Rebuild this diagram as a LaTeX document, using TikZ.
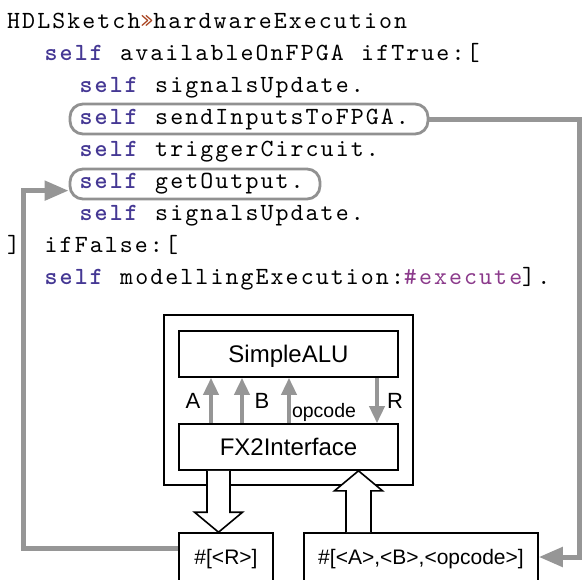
\documentclass[tikz,border=0pt]{standalone}
\usepackage{fontspec}
\usetikzlibrary{arrows.meta,calc}
\newfontfamily\codefont{lmmono10-regular.otf}[BoldFont=lmmonolt10-bold.otf,LetterSpace=8.4,WordSpace=1.1604]
\newfontfamily\helv{Liberation Sans}
\definecolor{selfc}{RGB}{69,56,148}
\definecolor{guilc}{RGB}{168,66,30}
\definecolor{symc}{RGB}{139,58,139}
\definecolor{conng}{RGB}{150,150,150}
\definecolor{pillg}{RGB}{145,145,145}
\newcommand\kwself[1]{{\bfseries\color{selfc}#1}}
\tikzset{
  code/.style={anchor=base west, inner sep=0pt, font=\codefont\fontsize{24.7}{30}\selectfont},
  pill/.style={draw=pillg, line width=2.8pt, rounded corners=13pt, minimum height=30pt, inner sep=0pt},
  blk/.style={draw, line width=1.6pt, inner sep=0pt, font=\helv\fontsize{24}{28}\selectfont, text height=17.2pt, text depth=0pt},
  blksmall/.style={draw, line width=1.6pt, inner sep=0pt, font=\helv\fontsize{21}{24}\selectfont, text height=15pt, text depth=0pt},
  lab/.style={anchor=base, inner sep=0pt, font=\helv\fontsize{22}{24}\selectfont},
  conn/.style={draw=conng, line width=5pt, -{Triangle[length=24pt,width=19pt]}},
  innerarr/.style={draw=conng, line width=3.7pt, -{Triangle[length=17pt,width=15pt]}},
  hollow/.style={draw=black, fill=white, line width=1.6pt, line join=miter},
}
\begin{document}
\begin{tikzpicture}[x=1pt,y=-1pt]
\useasboundingbox (0,0) rectangle (584,579);
\clip (0,0) rectangle (584,579);
% code
\node[code] (l1) at (7,28) {HDLSketch{\color{guilc}»}hardwareExecution};
\node[code] (l2) at (44.5,60.1) {\kwself{self} availableOnFPGA ifTrue:[};
\node[code] (l3) at (79.5,92.2) {\kwself{self} signalsUpdate.};
\node[code] (l4) at (79.5,124.3) {\kwself{self} sendInputsToFPGA.};
\node[code] (l5) at (79.5,156.4) {\kwself{self} triggerCircuit.};
\node[code] (l6) at (79.5,188.5) {\kwself{self} getOutput.};
\node[code] (l7) at (79.5,220.6) {\kwself{self} signalsUpdate.};
\node[code] (l8) at (7,252.7) {\makebox[37.5pt][l]{]}ifFalse:[};
\node[code] (l9) at (44.5,284.8) {\kwself{self} modellingExecution:{\color{symc}\#execute}].};
% highlight pills
\node[pill, minimum width=358pt] (sendbox) at (249,119) {};
\node[pill, minimum width=250pt] (getbox) at (195,184) {};
% hardware blocks
\node[blk, minimum width=249pt, minimum height=170pt] (fpga) at (288.5,400) {};
\node[blk, minimum width=219pt, minimum height=46pt] (alu) at (288.5,354) {SimpleALU};
\node[blk, minimum width=219pt, minimum height=46pt] (fx) at (288.5,447) {FX2Interface};
\node[blksmall, minimum width=94pt, minimum height=48pt] (rbox) at (226,557) {\#[<R>]};
\node[blksmall, minimum width=234pt, minimum height=48pt] (abo) at (421,557) {\#[<A>,<B>,<opcode>]};
% inner signal arrows
\coordinate (ax) at (211,0);
\coordinate (bx) at (242,0);
\coordinate (ox) at (289,0);
\coordinate (rx2) at (377,0);
\draw[innerarr] (fx.north -| ax) -- (alu.south -| ax);
\draw[innerarr] (fx.north -| bx) -- (alu.south -| bx);
\draw[innerarr] (fx.north -| ox) -- (alu.south -| ox);
\draw[innerarr] (alu.south -| rx2) -- (fx.north -| rx2);
\node[lab] (la) at (193,408) {A};
\node[lab] (lb) at (262,408) {B};
\node[lab] (lr) at (395,408) {R};
\node[lab, font=\helv\fontsize{19.5}{22}\selectfont] (lo) at (324,417) {opcode};
% hollow block arrows
\coordinate (dn) at (218.5,0);
\coordinate (up) at (358.5,0);
\filldraw[hollow] ($(dn |- fx.south)+(-11.5,0)$) -- ($(dn |- rbox.north)+(-11.5,-20)$) -- ($(dn |- rbox.north)+(-24,-20)$) -- (dn |- rbox.north) -- ($(dn |- rbox.north)+(24,-20)$) -- ($(dn |- rbox.north)+(11.5,-20)$) -- ($(dn |- fx.south)+(11.5,0)$);
\filldraw[hollow] ($(up |- abo.north)+(-12.5,0)$) -- ($(up |- fx.south)+(-12.5,20)$) -- ($(up |- fx.south)+(-24,20)$) -- (up |- fx.south) -- ($(up |- fx.south)+(24,20)$) -- ($(up |- fx.south)+(12.5,20)$) -- ($(up |- abo.north)+(12.5,0)$);
% gray connectors
\coordinate (rx) at (579,0);
\coordinate (lx) at (23,0);
\draw[conn] (sendbox.east) -| (rx |- abo.east) -- (abo.east);
\draw[conn] (rbox.170) -| (lx |- getbox.183) -- (getbox.183);
\end{tikzpicture}
\end{document}
